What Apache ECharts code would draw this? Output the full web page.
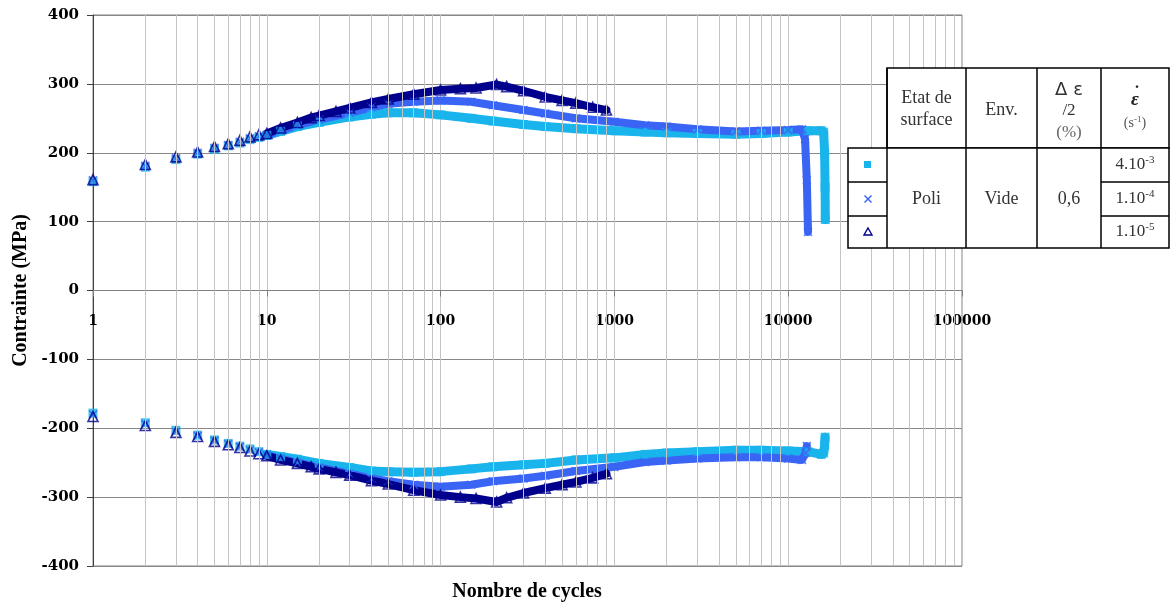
<!DOCTYPE html>
<html><head><meta charset="utf-8">
<script src="https://cdn.jsdelivr.net/npm/echarts@6/dist/echarts.min.js"></script>
<style>html,body{margin:0;padding:0;background:#fff}#c{width:1170px;height:604px}</style>
</head><body><div id="c"></div>
<script>
// ---- data (cycle number, stress MPa) ----
const sqTension = [[1,158],[2,179],[3,190],[4,198],[5,205],[6,210],[7,214],[8,219],[9,222],[10,225],
  [12,231],[15,238],[20,244],[30,252],[40,256],[50,258],[70,258],[100,255],[150,250],[200,246],[300,241],
  [400,238],[600,235],[1000,232],[1500,230],[2000,229],[3000,228],[5000,227],[7000,228],[10000,230],
  [13000,232],[15500,232],[16000,230],[16200,200],[16300,150],[16350,103]];
const sqCompression = [[1,-178],[2,-192],[3,-203],[4,-210],[5,-217],[6,-222],[7,-226],[8,-230],[9,-234],[10,-238],
  [12,-241],[15,-245],[20,-251],[30,-257],[40,-262],[50,-263],[70,-264],[100,-263],[150,-259],[200,-256],
  [300,-253],[400,-251],[600,-246],[1000,-243],[1500,-238],[2000,-236],[3000,-234],[5000,-232],[7000,-232],
  [10000,-233],[13000,-234],[15500,-238],[16000,-236],[16200,-225],[16300,-213]];
const crossTension = [[1,160],[2,181],[3,192],[4,200],[5,207],[6,211],[7,216],[8,221],[9,224],[10,226],
  [12,232],[15,240],[20,248],[30,258],[40,266],[50,271],[70,274],[100,276],[150,274],[200,269],[300,262],
  [400,257],[600,250],[1000,245],[1500,240],[2000,238],[3000,234],[5000,231],[7000,232],[10000,233],
  [12000,234],[12500,220],[12800,160],[13000,85]];
const crossCompression = [[1,-180],[2,-194],[3,-205],[4,-211],[5,-218],[6,-223],[7,-227],[8,-232],[9,-235],[10,-239],
  [12,-244],[15,-250],[20,-257],[30,-266],[40,-273],[50,-277],[70,-282],[100,-285],[150,-282],[200,-277],
  [300,-273],[400,-269],[600,-262],[1000,-256],[1500,-249],[2000,-247],[3000,-244],[5000,-242],[7000,-242],
  [10000,-244],[12000,-246],[12600,-236],[12800,-226]];
const triTension = [[1,161],[2,183],[3,194],[4,201],[5,209],[6,213],[7,218],[8,223],[9,226],[10,228],
  [12,236],[15,244],[18,251],[20,254],[25,260],[30,265],[40,273],[50,278],[70,285],[100,291],[130,293],
  [160,294],[210,299],[240,296],[300,290],[400,281],[500,276],[600,272],[750,266],[900,262]];
const triCompression = [[1,-183],[2,-196],[3,-206],[4,-212],[5,-219],[6,-224],[7,-228],[8,-233],[9,-237],[10,-240],
  [12,-246],[15,-251],[18,-256],[20,-259],[25,-264],[30,-268],[40,-276],[50,-281],[70,-290],[100,-297],[130,-300],
  [160,-302],[210,-307],[240,-301],[300,-294],[400,-287],[500,-282],[600,-278],[750,-272],[900,-266]];
const xTickLabels = ['1','10','100','1000','10000','100000'];
const seriesNames = ['4.10-3','1.10-4','1.10-5'];

const C_SQ = '#1AB4EC', C_X = '#3A64F4', C_TRI = '#00008C';
const SERIF = '"Liberation Serif", "Times New Roman", serif';
const NUMF = '"DejaVu Serif", serif';

const GRID = {left:93, right:208, top:15, bottom:38};
const plotH = 604 - GRID.top - GRID.bottom;

// minor vertical grid lines 2..9 per decade
const minor = [];
for (let d = 0; d < 5; d++) for (let k = 2; k <= 9; k++) minor.push({xAxis: k * Math.pow(10, d)});

const crossPath = 'path://M0,0L10,10M10,0L0,10';
function band(name, data, color, w) {
  return {name, type:'line', data: data.filter(p => p[0] >= 10), showSymbol:false, symbol:'none',
    lineStyle:{color, width:w, cap:'round', join:'round'}, silent:true, z:3, animation:false};
}
function pts(name, data, symbol, size, style) {
  return {name, type:'scatter', data, symbol, symbolSize:size, itemStyle:style, z:3, animation:false, silent:true};
}

const chart = echarts.init(document.getElementById('c'), null, {renderer:'canvas'});
chart.setOption({
  animation:false,
  backgroundColor:'#fff',
  grid:Object.assign({show:true, borderColor:'#808080', borderWidth:1, backgroundColor:'transparent'}, GRID),
  xAxis:{type:'log', logBase:10, min:1, max:100000, position:'bottom', offset:-plotH/2,
    axisLine:{onZero:false, lineStyle:{color:'#808080', width:1}},
    axisTick:{show:true, length:6, lineStyle:{color:'#808080'}},
    axisLabel:{fontFamily:NUMF, fontWeight:'bold', fontSize:14, color:'#000', margin:24,
      showMinLabel:true, showMaxLabel:true,
      formatter:(v)=>{const i=Math.round(Math.log10(v)); return xTickLabels[i] || '';}},
    splitLine:{show:true, lineStyle:{color:'#c4c4c4', width:1}}
  },
  yAxis:{type:'value', min:-400, max:400, interval:100,
    name:'Contrainte (MPa)', nameLocation:'middle', nameGap:60, nameRotate:90,
    nameTextStyle:{fontFamily:SERIF, fontWeight:'bold', fontSize:20, color:'#000'},
    axisLine:{show:true, onZero:false, lineStyle:{color:'#404040', width:1}},
    axisTick:{show:true, length:6, lineStyle:{color:'#404040'}},
    axisLabel:{fontFamily:NUMF, fontWeight:'bold', fontSize:15, color:'#000', margin:14},
    splitLine:{show:true, lineStyle:{color:'#888888', width:1}}
  },
  series:[
    {type:'line', data:[], z:1, silent:true,
      markLine:{silent:true, symbol:['none','none'], label:{show:false}, animation:false,
        lineStyle:{color:'#c4c4c4', type:'solid', width:1}, emphasis:{disabled:true}, data:minor}},
    band(seriesNames[0], sqTension, C_SQ, 9),
    band(seriesNames[0], sqCompression, C_SQ, 9),
    pts(seriesNames[0], sqTension, 'rect', 9, {color:C_SQ}),
    pts(seriesNames[0], sqCompression, 'rect', 9, {color:C_SQ}),
    band(seriesNames[1], crossTension, C_X, 8),
    band(seriesNames[1], crossCompression, C_X, 8),
    pts(seriesNames[1], crossTension, crossPath, 8, {color:'none', borderColor:C_X, borderWidth:1.6}),
    pts(seriesNames[1], crossCompression, crossPath, 8, {color:'none', borderColor:C_X, borderWidth:1.6}),
    band(seriesNames[2], triTension, C_TRI, 8),
    band(seriesNames[2], triCompression, C_TRI, 8),
    pts(seriesNames[2], triTension, 'triangle', 10, {color:'rgba(0,0,0,0)', borderColor:C_TRI, borderWidth:1.6}),
    pts(seriesNames[2], triCompression, 'triangle', 10, {color:'rgba(0,0,0,0)', borderColor:C_TRI, borderWidth:1.6})
  ],
  graphic:[
    {type:'text', style:{text:'Nombre de cycles', x:527, y:592, align:'center', verticalAlign:'middle',
      font:'bold 20px ' + SERIF, fill:'#000'}},
    // table
    {type:'rect', shape:{x:887, y:68, width:282, height:80}, style:{fill:'#fff', stroke:'#000', lineWidth:1.5}, z:100},
    {type:'rect', shape:{x:848, y:148, width:321, height:100}, style:{fill:'#fff', stroke:'#000', lineWidth:1.5}, z:100},
    {type:'line', shape:{x1:887, y1:68, x2:887, y2:248}, style:{stroke:'#000', lineWidth:1.5}, z:101},
    {type:'line', shape:{x1:966, y1:68, x2:966, y2:248}, style:{stroke:'#000', lineWidth:1.5}, z:101},
    {type:'line', shape:{x1:1037, y1:68, x2:1037, y2:248}, style:{stroke:'#000', lineWidth:1.5}, z:101},
    {type:'line', shape:{x1:1101, y1:68, x2:1101, y2:248}, style:{stroke:'#000', lineWidth:1.5}, z:101},
    {type:'line', shape:{x1:848, y1:182, x2:887, y2:182}, style:{stroke:'#000', lineWidth:1.5}, z:101},
    {type:'line', shape:{x1:848, y1:216, x2:887, y2:216}, style:{stroke:'#000', lineWidth:1.5}, z:101},
    {type:'line', shape:{x1:1101, y1:182, x2:1169, y2:182}, style:{stroke:'#000', lineWidth:1.5}, z:101},
    {type:'line', shape:{x1:1101, y1:216, x2:1169, y2:216}, style:{stroke:'#000', lineWidth:1.5}, z:101},
    {type:'text', z:102, style:{text:'Etat de\nsurface', x:926.5, y:109, align:'center', verticalAlign:'middle', lineHeight:22, font:'18px ' + SERIF, fill:'#333'}},
    {type:'text', z:102, style:{text:'Env.', x:1001.5, y:110, align:'center', verticalAlign:'middle', font:'18px ' + SERIF, fill:'#333'}},
    {type:'text', z:102, style:{text:'Δ ε', x:1069, y:90, align:'center', verticalAlign:'middle', font:'18px "DejaVu Sans", sans-serif', fill:'#333'}},
    {type:'text', z:102, style:{text:'/2', x:1069, y:111, align:'center', verticalAlign:'middle', font:'17px ' + SERIF, fill:'#333'}},
    {type:'text', z:102, style:{text:'(%)', x:1069, y:133, align:'center', verticalAlign:'middle', font:'17px ' + SERIF, fill:'#666'}},
    {type:'text', z:102, style:{text:'ε', x:1135, y:100, align:'center', verticalAlign:'middle', font:'italic bold 19px ' + SERIF, fill:'#222'}},
    {type:'text', z:102, style:{text:'.', x:1137, y:84, align:'center', verticalAlign:'middle', font:'bold 16px ' + SERIF, fill:'#222'}},
    {type:'text', z:102, style:{text:'{b|(s}{s|-1}{b|)}', x:1135, y:123, align:'center', verticalAlign:'middle',
      rich:{b:{fontSize:14, fontFamily:SERIF, fill:'#555', lineHeight:16}, s:{fontSize:9, fontFamily:SERIF, fill:'#555', lineHeight:9, verticalAlign:'top'}}}},
    {type:'text', z:102, style:{text:'Poli', x:926.5, y:199, align:'center', verticalAlign:'middle', font:'18px ' + SERIF, fill:'#333'}},
    {type:'text', z:102, style:{text:'Vide', x:1001.5, y:199, align:'center', verticalAlign:'middle', font:'18px ' + SERIF, fill:'#333'}},
    {type:'text', z:102, style:{text:'0,6', x:1069, y:199, align:'center', verticalAlign:'middle', font:'18px ' + SERIF, fill:'#333'}},
    {type:'text', z:102, style:{text:'{b|4.10}{s|-3}', x:1135, y:165, align:'center', verticalAlign:'middle',
      rich:{b:{fontSize:17, fontFamily:SERIF, fill:'#333', lineHeight:20}, s:{fontSize:11, fontFamily:SERIF, fill:'#333', lineHeight:11, verticalAlign:'top'}}}},
    {type:'text', z:102, style:{text:'{b|1.10}{s|-4}', x:1135, y:199, align:'center', verticalAlign:'middle',
      rich:{b:{fontSize:17, fontFamily:SERIF, fill:'#333', lineHeight:20}, s:{fontSize:11, fontFamily:SERIF, fill:'#333', lineHeight:11, verticalAlign:'top'}}}},
    {type:'text', z:102, style:{text:'{b|1.10}{s|-5}', x:1135, y:232, align:'center', verticalAlign:'middle',
      rich:{b:{fontSize:17, fontFamily:SERIF, fill:'#333', lineHeight:20}, s:{fontSize:11, fontFamily:SERIF, fill:'#333', lineHeight:11, verticalAlign:'top'}}}},
    {type:'rect', z:102, shape:{x:864, y:161, width:7, height:7}, style:{fill:C_SQ}},
    {type:'polyline', z:102, shape:{points:[[864.5,195.5],[871.5,202.5]]}, style:{stroke:C_X, lineWidth:1.4}},
    {type:'polyline', z:102, shape:{points:[[871.5,195.5],[864.5,202.5]]}, style:{stroke:C_X, lineWidth:1.4}},
    {type:'polygon', z:102, shape:{points:[[868,228],[872,235],[864,235]]}, style:{fill:'none', stroke:C_TRI, lineWidth:1.4}}
  ]
});
</script></body></html>
